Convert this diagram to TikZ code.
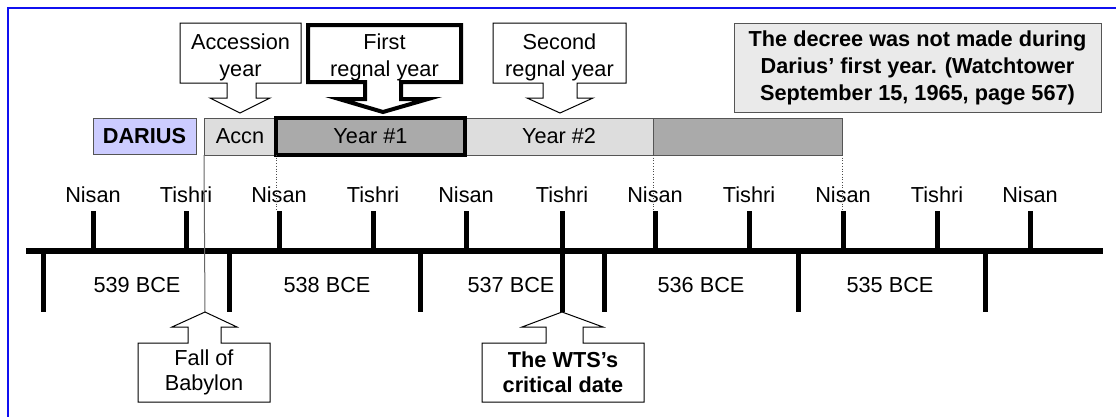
\documentclass[tikz,border=0pt]{standalone}
\usepackage{fontspec}
\setmainfont{Liberation Sans}
\definecolor{segl}{HTML}{DDDDDD}
\definecolor{segd}{HTML}{AAAAAA}
\definecolor{lav}{HTML}{CCCCFF}
\definecolor{notefill}{HTML}{EAEAEA}
\definecolor{edgec}{HTML}{555555}
\definecolor{frameblue}{HTML}{1010F0}
\begin{document}
\begin{tikzpicture}[x=1pt,y=-1pt,
  every node/.style={font=\fontsize{21.7}{27}\selectfont, inner sep=0pt, outer sep=0pt},
  txt/.style={align=center},
  btxt/.style={align=center, font=\fontsize{21.7}{27}\selectfont\bfseries},
  seg/.style={draw=edgec, line width=1pt, minimum height=37pt, anchor=north west},
  tickline/.style={line width=5pt},
  axisline/.style={line width=5.5pt},
  callout/.style={draw=black, line width=1pt, fill=white, line join=miter},
  thickcallout/.style={draw=black, line width=4pt, fill=white, line join=miter},
  guide/.style={draw=black!60, line width=1pt},
  dotguide/.style={draw=black!70, line width=0.7pt, dotted},
]
\useasboundingbox (0,0) rectangle (1116,416);
\fill[white] (0,0) rectangle (1116,416);
\draw[frameblue, line width=2pt] (8,417) -- (8,8) -- (1117,8);

% note box
\node[draw=edgec, line width=1pt, fill=notefill, minimum width=367pt, minimum height=89pt, anchor=north west, align=center, font=\fontsize{21.7}{27}\selectfont\bfseries] (note) at (734,23) {The decree was not made during\\Darius’ first year. (Watchtower\\September 15, 1965, page 567)};

% DARIUS and reign bar
\node[seg, fill=lav, minimum width=103pt, minimum height=36pt, font=\fontsize{21.7}{27}\selectfont\bfseries] (darius) at (93,118) {DARIUS};
\node[seg, fill=segl, minimum width=72pt] (accn) at (204,118) {Accn};
\node[seg, fill=segl, minimum width=188pt] (y2) at (465,118) {Year \#2};
\node[seg, fill=segd, minimum width=189pt] (y3) at (653,118) {};
\node[seg, fill=segd, minimum width=189pt, draw=black, line width=3.5pt] (y1) at (276,118) {Year \#1};

% axis
\coordinate (axL) at (26,251);
\coordinate (axR) at (1103,251);
\draw[axisline] (axL) -- (axR);

% upper ticks with month names
\foreach \x/\m [count=\i] in {93/Nisan,186/Tishri,279/Nisan,373/Tishri,466/Nisan,562/Tishri,655/Nisan,749/Tishri,843/Nisan,937/Tishri,1030/Nisan}{
  \coordinate (up\i) at (\x,211);
  \coordinate (ub\i) at (\x,251);
  \draw[tickline] (ub\i) -- (up\i);
  \node (mon\i) at (\x,195) {\m};
}
% lower ticks
\foreach \x [count=\i] in {43,229,420,604,798,985}{
  \coordinate (lt\i) at (\x,251);
  \coordinate (lb\i) at (\x,312);
  \draw[tickline] (lt\i) -- (lb\i);
}
% year labels
\node (yr539) at (137,285) {539 BCE};
\node (yr538) at (327,285) {538 BCE};
\node (yr537) at (511,285) {537 BCE};
\node (yr536) at (701,285) {536 BCE};
\node (yr535) at (890,285) {535 BCE};

% tips of the lower callouts
\coordinate (fallTip) at (205,312);
\coordinate (wtsTip) at (562,312);
% Tishri tick continued down to the WTS callout
\draw[tickline] (ub6) -- (wtsTip);

% guide lines
\draw[guide] (accn.south west) -- (fallTip);
\draw[dotguide] (y1.south west) -- (y1.south west |- up3);
\draw[dotguide] (y2.south east) -- (y2.south east |- up7);
\draw[dotguide] (y3.south east) -- (y3.south east |- up9);

% top callouts
\draw[callout] (180,23) -- (301,23) -- (301,83) -- (256,83) -- (256,98) -- (270,98) -- (240,113) -- (210,98) -- (227,98) -- (227,83) -- (180,83) -- cycle;
\node[txt] (acc) at (240.5,57) {Accession\\year};

\draw[thickcallout] (308,25) -- (461,25) -- (461,82) -- (401,82) -- (401,99) -- (428,99) -- (383,112) -- (339,99) -- (365,99) -- (365,82) -- (308,82) -- cycle;
\node[txt] (first) at (384.5,57) {First\\regnal year};

\draw[callout] (493,23) -- (626,23) -- (626,83) -- (577,83) -- (577,98) -- (593,98) -- (560,113) -- (527,98) -- (543,98) -- (543,83) -- (493,83) -- cycle;
\node[txt] (second) at (559.5,57) {Second\\regnal year};

% bottom callouts
\draw[callout] (138,343) -- (188,343) -- (188,327) -- (172,327) -- (fallTip) -- (237,327) -- (221,327) -- (221,343) -- (270,343) -- (270,402) -- (138,402) -- cycle;
\node[txt, font=\fontsize{21.7}{25}\selectfont] (fall) at (204,372.5) {Fall of\\Babylon};

\draw[callout] (482,343) -- (546,343) -- (546,327) -- (522,327) -- (wtsTip) -- (603,327) -- (583,327) -- (583,343) -- (644,343) -- (644,402) -- (482,402) -- cycle;
\node[txt, font=\fontsize{21.7}{25}\selectfont\bfseries] (wts) at (563,372.5) {The WTS’s\\critical date};
\end{tikzpicture}
\end{document}
